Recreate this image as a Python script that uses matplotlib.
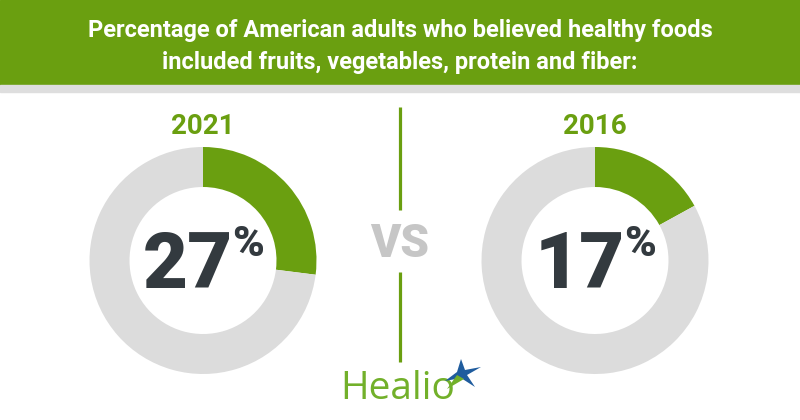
import matplotlib.pyplot as plt
import numpy as np
from matplotlib.patches import Rectangle

# data
years = ["2021", "2016"]
percents = [27, 17]
title_lines = ["Percentage of American adults who believed healthy foods",
               "included fruits, vegetables, protein and fiber:"]

GREEN = "#6a9f10"
RING = "#dcdcdc"
DARK = "#333a3f"
W, H = 800, 420


def Y(y):
    # image rows (from top) -> axes y (from bottom)
    return H - y


def main():
    fig = plt.figure(figsize=(8, 4.2), dpi=100)
    ax = fig.add_axes([0, 0, 1, 1])

    # header band
    ax.add_patch(Rectangle((0, Y(85)), W, 85, color=GREEN, zorder=1))
    ax.add_patch(Rectangle((0, Y(92)), W, 7, color="#dedede", zorder=1))
    ax.text(400, Y(31), title_lines[0], ha="center", va="center", color="white",
            fontsize=17, fontweight="bold", family="Roboto")
    ax.text(400, Y(62), title_lines[1], ha="center", va="center", color="white",
            fontsize=17, fontweight="bold", family="Roboto")

    # donuts
    centers = [203, 595]
    cy = Y(260.5)
    for cx, yr, p in zip(centers, years, percents):
        ax.pie([p, 100 - p], colors=[GREEN, RING], startangle=90, counterclock=False,
               center=(cx, cy), radius=113.5, wedgeprops=dict(width=40, linewidth=0),
               frame=True)
        ax.text(cx, Y(127), yr, ha="center", va="center", color=GREEN,
                fontsize=20, fontweight="bold", family="Roboto")
        num = ax.text(cx - 15, Y(288), str(p), ha="center", va="baseline", color=DARK,
                      fontsize=56, fontweight="black", family="Roboto")
        # percent sign sits high, top aligned with the digits
        ax.annotate("%", xy=(1, Y(224)), xycoords=(num, "data"), xytext=(-1, 0),
                    textcoords="offset points", ha="left", va="top", color=DARK,
                    fontsize=31, fontweight="black", family="Roboto")

    # divider and VS
    ax.plot([400, 400], [Y(107), Y(210)], color=GREEN, lw=2.3, solid_capstyle="butt")
    ax.plot([400, 400], [Y(272), Y(362)], color=GREEN, lw=2.3, solid_capstyle="butt")
    ax.text(400, Y(257), "VS", ha="center", va="baseline", color="#c6c6c6",
            fontsize=33, fontweight="black", family="Roboto")

    # Healio logo
    ax.text(340, Y(399), "Healio", ha="left", va="baseline", color="#72b02a",
            fontsize=28, family="Open Sans")
    sx, sy = 461, Y(373)
    star = np.array([[0, 14], [4, 3], [20, 6], [6, -2], [14, -14], [0, -5], [-16, -8], [-4, 1]])
    ax.fill(sx + star[:, 0], sy + star[:, 1], color="#1f5c9e", lw=0, zorder=3)
    ax.fill([sx - 4, sx + 3, sx - 14], [sy - 2, sy - 6, sy - 16], color="#72b02a", lw=0, zorder=4)

    ax.set_xlim(0, W)
    ax.set_ylim(0, H)
    ax.set_aspect("auto")
    ax.set_axis_off()
    fig.savefig("out.png", dpi=100, facecolor="white")


if __name__ == "__main__":
    main()
